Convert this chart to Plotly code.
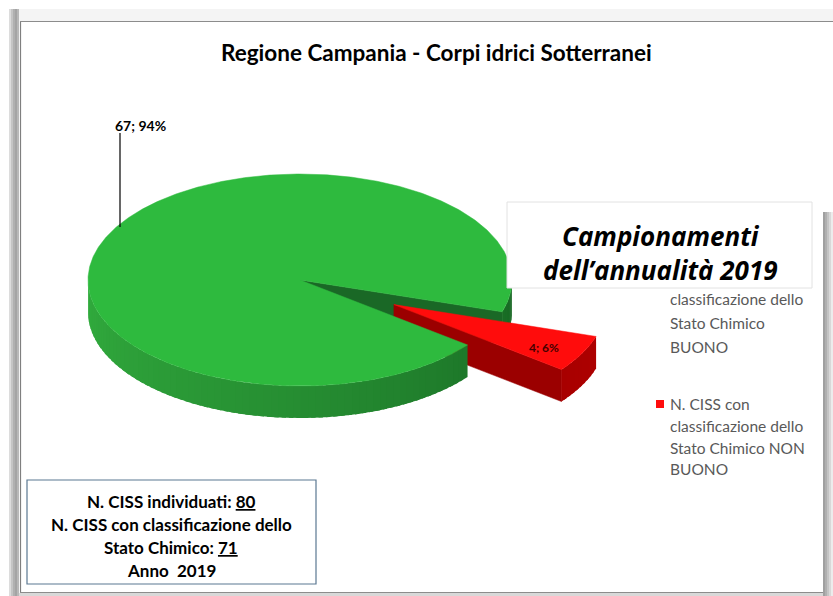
import numpy as np
import plotly.graph_objects as go

# ---- data -------------------------------------------------------------
categories = [
    "N. CISS con classificazione dello Stato Chimico BUONO",
    "N. CISS con classificazione dello Stato Chimico NON BUONO",
]
legend_lines = [
    ["N. CISS con", "classificazione dello", "Stato Chimico", "BUONO"],
    ["N. CISS con", "classificazione dello", "Stato Chimico NON", "BUONO"],
]
values = [67, 4]
ciss_individuati = 80
anno = 2019

total = sum(values)
percents = [round(v / total * 100) for v in values]

# ---- 3D pie projection -------------------------------------------------
W, H = 833, 596
CX, CY, RX, RY, DEPTH = 300, 280, 212, 106, 32
START = 17.5      # screen angle (deg, clockwise) where the red slice begins
PULL = 0.5        # explode distance of the red slice, fraction of radius
FONT = "Lato"

red_span = 360.0 * values[1] / total
b0, b1 = START, START + red_span          # red slice
a0, a1 = b1, START + 360.0                # green slice
mid = np.radians((b0 + b1) / 2)
off = (PULL * RX * np.cos(mid), PULL * RY * np.sin(mid))


def pt(theta_deg, r=1.0, dz=0.0, o=(0.0, 0.0)):
    t = np.radians(theta_deg)
    return CX + o[0] + r * RX * np.cos(t), CY + o[1] + r * RY * np.sin(t) + dz


def arc(t0, t1, dz=0.0, o=(0.0, 0.0), n=None):
    n = n or max(4, int(abs(t1 - t0) * 2))
    ts = np.linspace(t0, t1, n)
    xs, ys = zip(*[pt(t, dz=dz, o=o) for t in ts])
    return list(xs), list(ys)


def poly(xs, ys, color, name=None, lw=0.0):
    return go.Scatter(
        x=xs + [xs[0]], y=ys + [ys[0]], mode="lines", fill="toself",
        fillcolor=color, line=dict(color=color, width=lw),
        hoverinfo="skip", showlegend=False, name=name or "",
    )


def lerp(c0, c1, f):
    f = min(max(f, 0.0), 1.0)
    return "rgb(%d,%d,%d)" % tuple(int(a + (b - a) * f) for a, b in zip(c0, c1))


def rim_wall(t0, t1, dark, light, o=(0.0, 0.0), step=2.0):
    """Side wall of a slice, shaded by angle; segments overlap to avoid seams."""
    traces = []
    edges = np.arange(t0, t1, step).tolist() + [t1]
    for s, e in zip(edges[:-1], edges[1:]):
        e2 = min(e + step * 0.6, t1)
        xt, yt = arc(s, e2, o=o, n=6)
        xb, yb = arc(e2, s, dz=DEPTH, o=o, n=6)
        tm = ((s + e) / 2) % 360
        f = tm / 180.0 if tm <= 180 else 0.0
        traces.append(poly(xt + xb, yt + yb, lerp(dark, light, f ** 0.8)))
    return traces


def cut_face(theta, color, o=(0.0, 0.0)):
    cx, cy = CX + o[0], CY + o[1]
    rx, ry = pt(theta, o=o)
    return poly([cx, rx, rx, cx], [cy, ry, ry + DEPTH, cy + DEPTH], color, lw=0.5)


G_DARK, G_LIGHT = (22, 100, 34), (50, 172, 62)
R_DARK, R_LIGHT = (140, 0, 0), (180, 0, 0)

fig = go.Figure()

# back-facing parts first, then the exploded slice, then the front of the green slice
fig.add_trace(cut_face(a1, "rgb(26,104,38)"))
for tr in rim_wall(360.0, a1, G_DARK, G_LIGHT):
    fig.add_trace(tr)

fig.add_trace(cut_face(b1, "rgb(155,0,0)", o=off))
for tr in rim_wall(b0, b1, R_LIGHT, R_DARK, o=off):
    fig.add_trace(tr)
xr, yr = arc(b0, b1, o=off)
fig.add_trace(poly([CX + off[0]] + xr, [CY + off[1]] + yr, "rgb(255,12,12)",
                   categories[1], lw=0.5))

for tr in rim_wall(a0, 180.0, G_DARK, G_LIGHT):
    fig.add_trace(tr)
xg, yg = arc(a0, a1)
fig.add_trace(poly([CX] + xg, [CY] + yg, "rgb(46,186,62)", categories[0], lw=0.5))

# ---- labels -----------------------------------------------------------
ann = []
# green label with leader line
lead_x = 120
lead_y = CY - RY * np.sqrt(1 - ((lead_x - CX) / RX) ** 2) + 3
ann.append(dict(x=113, y=125, xanchor="left", yanchor="middle",
                text="<b>%d; %d%%</b>" % (values[0], percents[0]), showarrow=False,
                font=dict(family=FONT, size=14, color="black")))
# red label inside the exploded slice
lx, ly = pt(np.degrees(mid), r=0.8, o=off)
ann.append(dict(x=lx, y=ly + 4, text="<b>%d; %d%%</b>" % (values[1], percents[1]),
                showarrow=False, font=dict(family=FONT, size=12, color="rgb(70,0,0)")))

# title
ann.append(dict(x=436, y=52, text="<b>Regione Campania - Corpi idrici Sotterranei</b>",
                showarrow=False, font=dict(family=FONT, size=22.5, color="black")))

# legend (text beside the pie)
LEG_X = 668
leg_y = [[274, 299, 323, 347], [404, 426, 448, 469]]
for i, lines in enumerate(legend_lines):
    for j, line in enumerate(lines):
        if i == 0 and j == 0:
            continue  # first line sits beneath the caption box
        ann.append(dict(x=LEG_X, y=leg_y[i][j], xanchor="left", yanchor="middle",
                        text=line, showarrow=False,
                        font=dict(family=FONT, size=15.5, color="rgb(89,89,89)")))

# caption box
ann.append(dict(x=660, y=253, yanchor="middle",
                text="<b><i>Campionamenti<br>dell’annualità %d</i></b>" % anno,
                showarrow=False,
                font=dict(family="Open Sans", size=26, color="black")))

# summary box
summary = [
    "<b>N. CISS individuati: <u>%d</u></b>" % ciss_individuati,
    "<b>N. CISS con classificazione dello</b>",
    "<b>Stato Chimico: <u>%d</u></b>" % total,
    "<b>Anno  %d</b>" % anno,
]
for k, line in enumerate(summary):
    ann.append(dict(x=171, y=501 + 23 * k, text=line, showarrow=False,
                    font=dict(family=FONT, size=17, color="black")))

# ---- frame and boxes ----------------------------------------------------
shapes = []
# left gray border (gradient)
for k, c in enumerate(["#dcdcdc", "#c4c4c4", "#b0b0b0", "#a4a4a4", "#b8b8b8"]):
    shapes.append(dict(type="rect", xref="x", yref="y", x0=9 + 2 * k, x1=11 + 2 * k,
                       y0=9, y1=596, fillcolor=c, line=dict(width=0), layer="below"))
shapes.append(dict(type="rect", xref="x", yref="y", x0=19, x1=833, y0=9, y1=21,
                   fillcolor="#f4f4f4", line=dict(width=0), layer="below"))
shapes.append(dict(type="line", xref="x", yref="y", x0=20.5, x1=20.5, y0=21, y1=593,
                   line=dict(color="#7f7f7f", width=1.2)))
shapes.append(dict(type="line", xref="x", yref="y", x0=20, x1=833, y0=21.5, y1=21.5,
                   line=dict(color="#8c8c8c", width=1.2)))
shapes.append(dict(type="line", xref="x", yref="y", x0=20, x1=833, y0=592.5, y1=592.5,
                   line=dict(color="#8c8c8c", width=1.2)))
shapes.append(dict(type="rect", xref="x", yref="y", x0=19, x1=833, y0=593, y1=596,
                   fillcolor="#d8d8d8", line=dict(width=0)))
# right gray border
for k, c in enumerate(["#a0a0a0", "#b0b0b0", "#c4c4c4", "#d8d8d8", "#ececec"]):
    shapes.append(dict(type="rect", xref="x", yref="y", x0=823 + 2 * k, x1=825 + 2 * k,
                       y0=212, y1=596, fillcolor=c, line=dict(width=0)))
# leader line
shapes.append(dict(type="line", xref="x", yref="y", x0=lead_x, x1=lead_x, y0=133,
                   y1=lead_y, line=dict(color="black", width=1.2)))
# caption box
shapes.append(dict(type="rect", xref="x", yref="y", x0=507, x1=812, y0=202, y1=288,
                   fillcolor="white", line=dict(color="#e2e2e2", width=1), layer="above"))
# red legend swatch
shapes.append(dict(type="rect", xref="x", yref="y", x0=656, x1=664, y0=400, y1=408,
                   fillcolor="rgb(255,12,12)", line=dict(width=0)))
# summary box
shapes.append(dict(type="rect", xref="x", yref="y", x0=27, x1=316, y0=480, y1=584,
                   fillcolor="white", line=dict(color="#5b7892", width=1.2), layer="above"))

fig.update_layout(
    width=W, height=H, margin=dict(l=0, r=0, t=0, b=0),
    paper_bgcolor="white", plot_bgcolor="white",
    xaxis=dict(range=[0, W], visible=False, fixedrange=True),
    yaxis=dict(range=[H, 0], visible=False, fixedrange=True),
    showlegend=False, annotations=ann, shapes=shapes,
)

fig.write_html("out.html")
